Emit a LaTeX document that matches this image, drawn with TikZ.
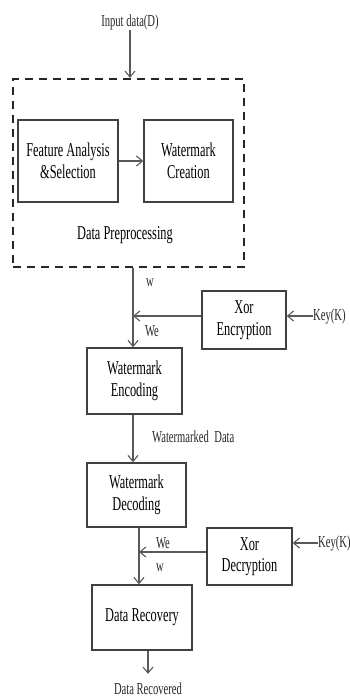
\documentclass[tikz,border=0pt]{standalone}
\usepackage{fontspec}
\setmainfont{Liberation Serif}[FakeStretch=0.63]
\usetikzlibrary{arrows.meta}
\newcommand*{\bigtext}{\fontsize{19.6}{21.5}\selectfont}
\newcommand*{\smalltext}{\fontsize{16.8}{18}\selectfont}
\tikzset{
  centered/.style = { align=center, anchor=center },
     block/.style = { draw=black!75, line width=1.4pt, centered, font=\bigtext, inner sep=0pt },
     label/.style = { font=\smalltext, text=black!85, inner sep=0pt },
     arrow/.style = { line width=1.1pt, color=black!65, -{Straight Barb[length=6pt,width=10pt]} },
     group/.style = { draw=black!85, line width=2.2pt, dash pattern=on 8pt off 6pt }
}
\begin{document}
\begin{tikzpicture}[x=1pt,y=-1pt]
  \useasboundingbox (0,0) rectangle (349,700);
  \node[label] (input) at (130,22) {Input data(D)};
  \node[group, minimum width=231pt, minimum height=188pt] (prep) at (128.5,173) {};
  \node[block, minimum width=100pt, minimum height=82pt] (feat) at (68,161)
    {Feature Analysis\\\&Selection};
  \node[block, minimum width=89pt, minimum height=82pt] (create) at (188.5,161)
    {Watermark\\Creation};
  \node[font=\bigtext, inner sep=0pt] (preplabel) at (125,235) {Data Preprocessing};

  \node[block, minimum width=84pt, minimum height=58pt] (xenc) at (244,320)
    {Xor\\Encryption};
  \node[label, anchor=west] (key1) at (313,316) {Key(K)};
  \node[block, minimum width=95pt, minimum height=66pt] (enc) at (134.5,381)
    {Watermark\\Encoding};
  \node[block, minimum width=99pt, minimum height=64pt] (dec) at (136.5,495)
    {Watermark\\Decoding};
  \node[block, minimum width=85pt, minimum height=57pt] (xdec) at (249.5,556.5)
    {Xor\\Decryption};
  \node[label, anchor=west] (key2) at (318,543) {Key(K)};
  \node[block, minimum width=100pt, minimum height=65pt] (rec) at (142,617.5)
    {Data Recovery};
  \node[label] (out) at (148,689) {Data Recovered};

  \coordinate (j1) at (133,316);
  \coordinate (j2) at (139,552);

  \draw [arrow] (input) -- (input |- prep.north);
  \draw [arrow] (feat) -- (create);
  \draw [arrow] (j1 |- prep.south) -- (j1 |- enc.north);
  \draw [arrow] (xenc.west |- j1) -- (j1);
  \draw [arrow] (key1.west) -- (key1.west -| xenc.east);
  \draw [arrow] (j1 |- enc.south) -- (j1 |- dec.north);
  \draw [arrow] (j2 |- dec.south) -- (j2 |- rec.north);
  \draw [arrow] (xdec.west |- j2) -- (j2);
  \draw [arrow] (key2.west) -- (key2.west -| xdec.east);
  \draw [arrow] (out |- rec.south) -- ([yshift=9pt]out.north);

  \node[label] (lw1) at (150,283) {w};
  \node[label] (lwe1) at (152,331) {We};
  \node[label, anchor=west] (lwd) at (152,437) {Watermarked\, Data};
  \node[label] (lwe2) at (163,543) {We};
  \node[label] (lw2) at (160,568) {w};
\end{tikzpicture}
\end{document}
